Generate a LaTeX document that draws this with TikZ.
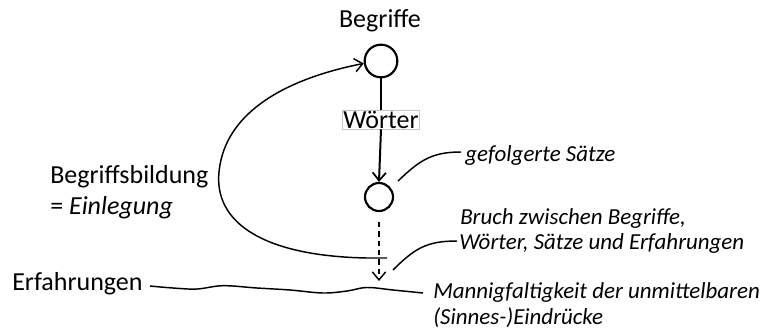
\documentclass[tikz,border=0pt]{standalone}
\usepackage{fontspec}
\setmainfont{Carlito}
\usetikzlibrary{arrows.meta}
\begin{document}
\begin{tikzpicture}[x=0.75pt,y=-0.75pt,
  lbl/.style={inner sep=0pt,font=\fontsize{19.5}{23}\selectfont},
  ilbl/.style={inner sep=0pt,font=\fontsize{17.2}{20}\selectfont\itshape},
  ring/.style={circle,draw,line width=1.6pt,inner sep=0pt},
  barb/.style={-{Straight Barb[length=6pt,width=10pt,line width=1.1pt]}},
  thinline/.style={line width=1.1pt}]
\useasboundingbox (0,0) rectangle (768,329);
% nodes
\node[ring,minimum size=24.5pt] (top) at (381,61) {};
\node[ring,minimum size=21pt] (small) at (379,197) {};
\node[lbl,draw=gray!45,line width=0.4pt,fill=white,inner sep=0.6pt] (woerter) at (381,119.5) {Wörter};
\node[lbl,anchor=base] (begriffe) at (380,27) {Begriffe};
\node[lbl,anchor=base west] (bildung) at (50,183) {Begriffsbildung};
\node[lbl,anchor=base west] (einl) at (50,214) {= \textit{Einlegung}};
\node[lbl,anchor=base west] (erf) at (12,290) {Erfahrungen};
\node[ilbl,anchor=base west] (gef) at (465,161) {gefolgerte Sätze};
\node[ilbl,anchor=base west] (bruch1) at (460,224) {Bruch zwischen Begriffe,};
\node[ilbl,anchor=base west] (bruch2) at (459,249) {Wörter, Sätze und Erfahrungen};
\node[ilbl,anchor=base west] (mann1) at (433,298) {Mannigfaltigkeit der unmittelbaren};
\node[ilbl,anchor=base west] (mann2) at (433,324) {(Sinnes-)Eindrücke};
% coordinates
\coordinate (dashstart) at (379,222);
\coordinate (dashend) at (379,281);
\coordinate (curvestart) at (387,258);
\coordinate (gefstart) at (398,181);
\coordinate (gefend) at (461,152);
\coordinate (bruchstart) at (393,270);
\coordinate (bruchend) at (457,241);
\coordinate (wavestart) at (150,286);
% connectors
\draw[line width=1.5pt] (top.south) -- (woerter.north);
\draw[line width=1.5pt,-{Straight Barb[length=6pt,width=10pt,line width=1.3pt]}] (woerter.south) -- (small.north);
\draw[thinline,dash pattern=on 4pt off 3pt,barb] (dashstart) -- (dashend);
\draw[thinline,barb] (curvestart) -- (367,258) .. controls (262,256) and (214,222) .. (219,172)
  .. controls (225,110) and (290,78) .. (top.188);
\draw[thinline] (gefstart) .. controls (420,160) and (432,152) .. (gefend);
\draw[thinline] (bruchstart) .. controls (415,248) and (427,241) .. (bruchend);
\draw[thinline] plot[smooth,tension=0.6] coordinates {(wavestart) (173,288) (197,289) (223,285.7) (257,288) (290,290) (323,293) (347,291) (367,287.5) (393,290) (423,293)};
\end{tikzpicture}
\end{document}
